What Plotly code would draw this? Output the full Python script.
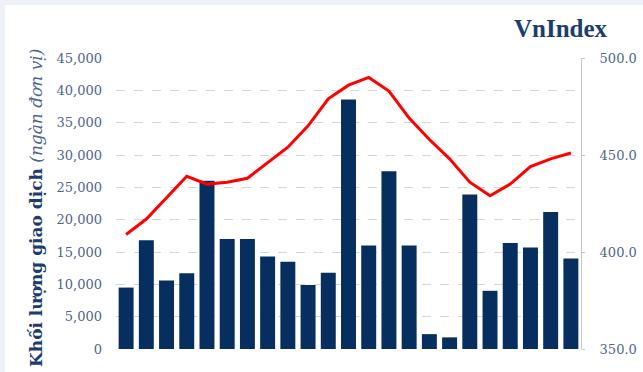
import plotly.graph_objects as go

categories = [f"P{i}" for i in range(1, 24)]
volume = [9500, 16800, 10600, 11700, 26000, 17000, 17000, 14300, 13500, 9900,
          11800, 38600, 16000, 27500, 16000, 2300, 1800, 23900, 9000, 16400,
          15700, 21200, 14000]
vnindex = [409, 417, 428, 439, 435, 436, 438, 446, 454, 465, 479, 486, 490,
           483, 469, 458, 448, 436, 429, 435, 444, 448, 451]
left_ticks = [0, 5000, 10000, 15000, 20000, 25000, 30000, 35000, 40000, 45000]
right_ticks = [350, 400, 450, 500]

W, H = 643, 372
L, R, T, B = 116, 62, 58, 23
pw, ph = W - L - R, H - T - B

def px(x):
    return (x - L) / pw

def py(y):
    return (H - B - y) / ph

tick_font = dict(family="DejaVu Serif", size=13, color="#50668c")

fig = go.Figure()
fig.add_trace(go.Bar(x=categories, y=volume, marker=dict(color="#062f5f", line=dict(width=0)),
                     yaxis="y", name="Khối lượng"))
fig.add_trace(go.Scatter(x=categories, y=vnindex, mode="lines", line=dict(color="#ff0000", width=3),
                         yaxis="y2", name="VnIndex"))

fig.update_layout(
    width=W, height=H,
    margin=dict(l=L, r=R, t=T, b=B, pad=0, autoexpand=False),
    paper_bgcolor="#eef2f8",
    plot_bgcolor="rgba(0,0,0,0)",
    showlegend=False,
    bargap=0.26,
    xaxis=dict(visible=False, range=[-0.5, len(categories) - 0.5], automargin=False),
    yaxis=dict(range=[0, 45000], tickvals=left_ticks, tickformat=",", showgrid=True,
               gridcolor="#d6d6d6", griddash="dash", gridwidth=1, zeroline=False,
               showline=False, ticks="", tickfont=tick_font, ticklabelstandoff=13,
               automargin=False),
    yaxis2=dict(range=[350, 500], tickvals=right_ticks, tickformat=".1f", overlaying="y",
                side="right", showgrid=False, zeroline=False, showline=True,
                linecolor="#c8c8c8", linewidth=1, ticks="outside", ticklen=3,
                tickcolor="#c8c8c8", tickfont=tick_font, ticklabelstandoff=12,
                automargin=False),
    shapes=[dict(type="rect", xref="paper", yref="paper", x0=px(5), x1=px(W + 5),
                 y0=py(H + 5), y1=py(5), fillcolor="white", line=dict(width=0), layer="below")],
    annotations=[
        dict(text="<b>VnIndex</b>", xref="paper", yref="paper", x=px(561), y=py(29),
             xanchor="center", yanchor="middle", showarrow=False,
             font=dict(family="Liberation Serif", size=25, color="#1d3d6e")),
        dict(text="<b>Khối lượng giao dịch</b> <i><span style='color:#4f6690'>(ngàn đơn vị)</span></i>",
             xref="paper", yref="paper", x=px(36), y=py(208), textangle=-90,
             xanchor="center", yanchor="middle", showarrow=False,
             font=dict(family="DejaVu Serif", size=17, color="#1d3d6e")),
    ],
)

fig.write_html("out.html")
